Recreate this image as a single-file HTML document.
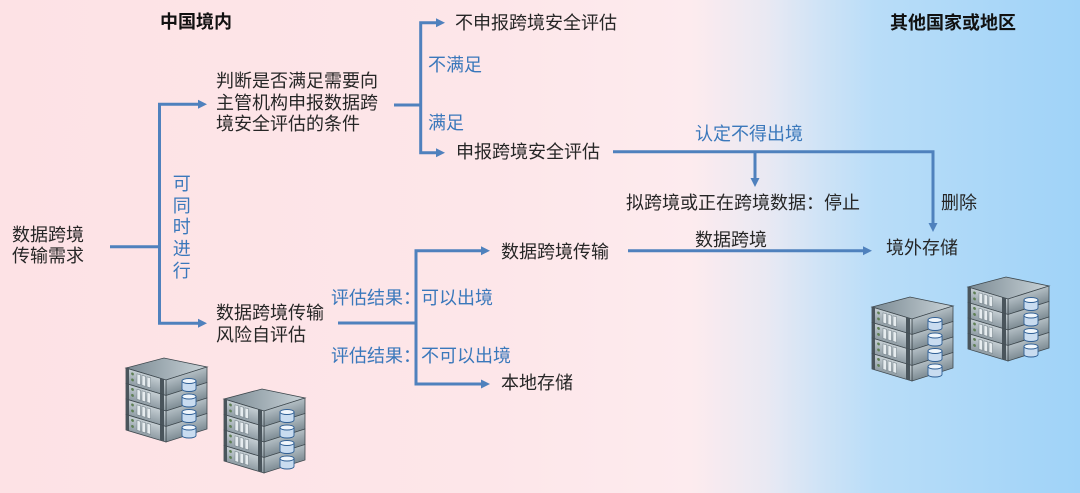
<!DOCTYPE html>
<html><head><meta charset="utf-8">
<style>
html,body{margin:0;padding:0;}
body{width:1080px;height:493px;overflow:hidden;position:relative;
background:linear-gradient(to right,#fde2e5 0%,#fde6e9 45%,#fdebee 64%,#e9e9f3 71%,#cfe3f6 76%,#b9ddf8 81%,#aad7f8 92%,#a0d3f8 100%);
font-family:"Liberation Sans","Noto Sans CJK SC",sans-serif;}
svg{position:absolute;left:0;top:0;}
.t{position:absolute;white-space:nowrap;font-size:18px;line-height:22px;color:#262626;}
.b{color:#3a78bb;}
.bold{font-weight:bold;color:#111;}
</style></head>
<body>
<svg width="1080" height="493" viewBox="0 0 1080 493">
<defs>
<linearGradient id="gTop" x1="0" y1="0" x2="1" y2="0"><stop offset="0" stop-color="#7b8a93"/><stop offset="1" stop-color="#c9d3d8"/></linearGradient>
<linearGradient id="gFront" x1="0" y1="0" x2="0" y2="1"><stop offset="0" stop-color="#c6cfd4"/><stop offset="1" stop-color="#8e9ba3"/></linearGradient>
<linearGradient id="gSide" x1="0" y1="0" x2="0" y2="1"><stop offset="0" stop-color="#b3bec4"/><stop offset="1" stop-color="#7e8c94"/></linearGradient>
<g id="srv">
 <polygon points="0,10 38,0 81,9 40,22" fill="url(#gTop)" stroke="#3d474d" stroke-width="0.8"/>
 <g transform="translate(40,22) skewY(-17.6)">
  <rect x="0" y="0" width="41" height="15.5" fill="url(#gSide)" stroke="#3d474d" stroke-width="0.8"/>
  <rect x="0" y="15.5" width="41" height="15.5" fill="url(#gSide)" stroke="#3d474d" stroke-width="0.8"/>
  <rect x="0" y="31" width="41" height="15.5" fill="url(#gSide)" stroke="#3d474d" stroke-width="0.8"/>
  <rect x="0" y="46.5" width="41" height="15.5" fill="url(#gSide)" stroke="#3d474d" stroke-width="0.8"/>
 </g>
 <g transform="skewY(16.7)">
  <g id="unit">
   <rect x="0" y="10" width="40" height="15.5" fill="url(#gFront)" stroke="#3d474d" stroke-width="0.8"/>
   <rect x="0" y="10" width="3" height="15.5" fill="#4a555c"/>
   <circle cx="6.5" cy="14" r="1.4" fill="#5f7f55"/>
   <circle cx="6.5" cy="20" r="1.4" fill="#5f7f55"/>
   <rect x="11" y="12.5" width="3.5" height="10" fill="#e6ecef" stroke="#6d7a82" stroke-width="0.5"/>
   <rect x="16" y="12.5" width="3.5" height="10" fill="#e6ecef" stroke="#6d7a82" stroke-width="0.5"/>
   <rect x="21" y="12.5" width="3.5" height="10" fill="#e6ecef" stroke="#6d7a82" stroke-width="0.5"/>
   <rect x="34" y="10" width="4" height="15.5" fill="#4a555c"/>
  </g>
  <use href="#unit" y="15.5"/>
  <use href="#unit" y="31"/>
  <use href="#unit" y="46.5"/>
 </g>
 <g id="cyl">
  <path d="M56,23 v8 a7,2.5 0 0 0 14,0 v-8 z" fill="#c9dcf0" stroke="#2f5f95" stroke-width="0.9"/>
  <ellipse cx="63" cy="23" rx="7" ry="2.5" fill="#f0f6fc" stroke="#2f5f95" stroke-width="0.9"/>
 </g>
 <use href="#cyl" y="15.5"/>
 <use href="#cyl" y="31"/>
 <use href="#cyl" y="46.5"/>
</g>
</defs>

<g stroke="#4f81bd" stroke-width="3" fill="none" stroke-linejoin="miter">
 <path d="M110,246.7 H159.5"/>
 <path d="M199,104.3 H159.5 V323.3 H199"/>
 <path d="M394,105 H420.7"/>
 <path d="M437,22.7 H420.7 V152.7 H437"/>
 <path d="M338,323 H416"/>
 <path d="M482,250.7 H416 V384 H482"/>
 <path d="M613,151.7 H933 V224"/>
 <path d="M755,151.7 V179"/>
 <path d="M628,250.7 H864"/>
</g>
<g fill="#4f81bd">
 <polygon points="198,99.8 207,104.3 198,108.8"/>
 <polygon points="198,318.8 207,323.3 198,327.8"/>
 <polygon points="436,18.2 445,22.7 436,27.2"/>
 <polygon points="436,148.2 445,152.7 436,157.2"/>
 <polygon points="481,246.2 490,250.7 481,255.2"/>
 <polygon points="481,379.5 490,384 481,388.5"/>
 <polygon points="750.5,178 755,187 759.5,178"/>
 <polygon points="928.5,223 933,232 937.5,223"/>
 <polygon points="863,246.2 872,250.7 863,255.2"/>
</g>

<use href="#srv" transform="translate(126,358)"/>
<use href="#srv" transform="translate(224,389)"/>
<use href="#srv" transform="translate(872,297)"/>
<use href="#srv" transform="translate(968,277)"/>
</svg>

<div class="t bold" style="left:160px;top:11px;">中国境内</div>
<div class="t bold" style="left:890px;top:12px;">其他国家或地区</div>

<div class="t" style="left:455px;top:11.5px;">不申报跨境安全评估</div>
<div class="t" style="left:216px;top:70.8px;line-height:21.7px;">判断是否满足需要向<br>主管机构申报数据跨<br>境安全评估的条件</div>
<div class="t" style="left:456px;top:141px;">申报跨境安全评估</div>
<div class="t" style="left:12px;top:225.2px;line-height:21px;">数据跨境<br>传输需求</div>
<div class="t" style="left:216px;top:302px;">数据跨境传输<br>风险自评估</div>
<div class="t" style="left:501px;top:240.5px;">数据跨境传输</div>
<div class="t" style="left:501px;top:372px;">本地存储</div>
<div class="t" style="left:626px;top:192px;">拟跨境或正在跨境数据：停止</div>
<div class="t" style="left:941px;top:192px;">删除</div>
<div class="t" style="left:695px;top:229px;">数据跨境</div>
<div class="t" style="left:886px;top:237px;">境外存储</div>

<div class="t b" style="left:428px;top:54px;">不满足</div>
<div class="t b" style="left:428px;top:111.7px;">满足</div>
<div class="t b" style="left:172.7px;top:174px;line-height:21.7px;width:18px;white-space:normal;">可<br>同<br>时<br>进<br>行</div>
<div class="t b" style="left:331px;top:287px;">评估结果：可以出境</div>
<div class="t b" style="left:331px;top:345px;">评估结果：不可以出境</div>
<div class="t b" style="left:695px;top:123px;">认定不得出境</div>
</body></html>
